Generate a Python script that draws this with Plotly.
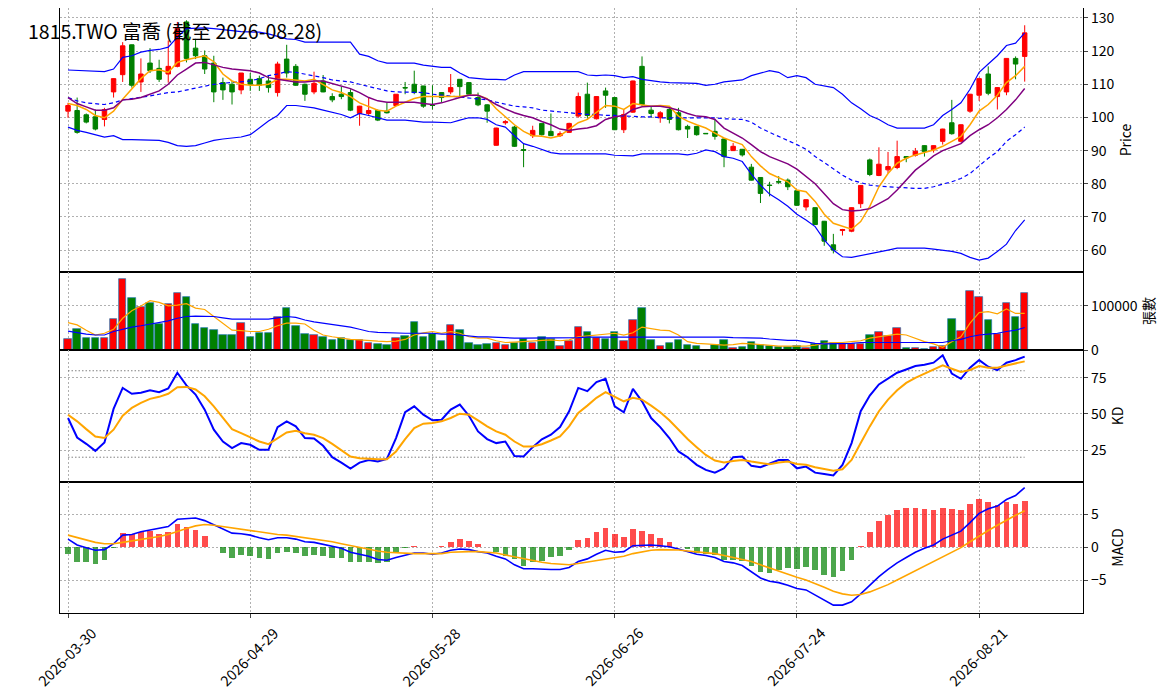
import pandas as pd
import plotly.graph_objects as go
from plotly.subplots import make_subplots

# 交易日 (台灣假日除外)
holidays = ["2026-04-03", "2026-04-06", "2026-05-01", "2026-06-19"]
dates = pd.bdate_range("2026-03-30", "2026-08-28", freq="C", holidays=holidays).strftime("%Y-%m-%d").tolist()
idx = list(range(len(dates)))

title_text = "1815.TWO 富喬 (截至 2026-08-28)"

open_ = [101.9, 102.1, 100.8, 100.2, 99.4, 107.7, 112.9, 121.9, 110.7, 116.4,
         114.8, 113.1, 115.4, 128.8, 120.9, 118.6, 116.4, 110.5, 110.0, 108.3,
         111.5, 111.7, 111.0, 107.5, 117.6, 115.4, 110.0, 107.7, 111.0, 106.3,
         107.0, 107.5, 101.2, 101.2, 102.1, 101.9, 103.6, 109.0, 110.0, 109.5,
         103.7, 107.5, 107.7, 111.5, 110.5, 106.0, 103.8, 91.6, 98.4, 97.1,
         90.3, 94.5, 98.2, 95.8, 94.5, 95.5, 100.4, 107.0, 99.6, 108.0,
         106.0, 96.3, 101.6, 115.4, 102.2, 99.9, 102.4, 101.4, 97.3, 97.3,
         95.2, 95.8, 93.5, 90.0, 90.4, 85.0, 81.9, 79.6, 80.7, 81.1,
         77.9, 73.0, 72.8, 68.7, 61.6, 65.9, 65.7, 74.0, 87.2, 82.5,
         84.2, 84.9, 88.2, 88.6, 91.5, 90.2, 92.8, 98.4, 92.8, 101.9,
         106.7, 113.1, 106.3, 107.7, 117.8, 118.4]
high = [104.4, 106.0, 101.2, 102.4, 102.9, 111.8, 122.7, 122.0, 117.8, 120.9,
        117.4, 123.2, 128.8, 129.3, 123.7, 120.2, 118.6, 112.0, 111.0, 113.4,
        113.4, 112.6, 112.8, 116.8, 121.9, 116.1, 110.2, 113.8, 112.8, 107.3,
        109.3, 108.5, 103.5, 106.0, 102.4, 104.4, 107.0, 110.7, 114.1, 109.5,
        109.7, 107.6, 113.1, 111.5, 110.7, 107.5, 104.0, 96.9, 99.2, 97.5,
        92.3, 97.5, 98.2, 101.2, 95.8, 98.4, 107.5, 110.5, 106.4, 109.0,
        106.1, 102.4, 111.1, 118.4, 103.4, 101.9, 103.2, 102.9, 97.8, 97.4,
        95.3, 99.6, 93.6, 92.3, 90.5, 86.0, 82.0, 80.6, 82.3, 81.6,
        78.0, 75.3, 72.9, 68.8, 64.9, 66.4, 72.9, 79.6, 87.6, 91.0,
        89.6, 93.0, 88.3, 90.8, 91.6, 91.6, 96.6, 105.3, 97.9, 107.1,
        112.0, 115.4, 109.1, 117.9, 118.4, 127.8]
low = [99.9, 95.1, 98.2, 96.1, 97.3, 106.0, 110.7, 109.0, 107.7, 113.4,
       110.7, 110.5, 115.1, 116.6, 117.6, 113.1, 104.6, 105.3, 103.9, 107.0,
       108.0, 108.0, 107.5, 106.3, 112.0, 109.5, 105.0, 107.0, 107.6, 104.6,
       105.5, 101.9, 97.5, 100.6, 98.9, 101.2, 103.5, 107.0, 107.0, 102.9,
       102.4, 104.6, 107.0, 106.3, 106.9, 103.4, 98.4, 91.5, 97.8, 91.1,
       85.0, 93.8, 94.5, 94.4, 94.1, 95.3, 99.9, 99.6, 99.4, 102.9,
       96.2, 95.3, 101.4, 103.4, 99.9, 98.4, 98.2, 96.1, 93.8, 94.5,
       95.0, 93.3, 85.0, 90.0, 88.2, 81.0, 74.2, 76.2, 79.9, 78.1,
       73.4, 71.9, 67.6, 61.3, 59.0, 64.4, 65.4, 72.7, 82.3, 82.3,
       83.2, 84.4, 86.5, 88.2, 88.2, 89.4, 91.8, 94.8, 92.5, 101.4,
       105.0, 106.7, 102.4, 106.7, 111.5, 110.8]
close = [103.6, 95.5, 98.6, 96.5, 102.4, 111.7, 121.6, 109.7, 113.1, 114.1,
         111.5, 115.4, 126.8, 117.8, 118.6, 114.6, 107.7, 108.3, 107.7, 113.4,
         110.0, 109.7, 109.0, 116.1, 113.4, 109.7, 107.0, 110.3, 107.7, 105.3,
         106.3, 102.2, 103.4, 102.1, 99.2, 101.4, 107.0, 108.9, 107.5, 103.4,
         103.6, 106.0, 109.0, 109.3, 107.0, 103.8, 101.9, 96.8, 98.7, 91.3,
         90.1, 96.1, 94.8, 94.5, 95.1, 98.2, 106.3, 100.6, 106.3, 106.7,
         96.3, 100.9, 111.0, 103.9, 101.2, 101.4, 99.4, 96.3, 96.5, 94.8,
         95.1, 94.3, 88.2, 91.3, 88.7, 81.1, 77.1, 79.5, 80.5, 79.1,
         73.5, 75.2, 67.7, 62.7, 60.0, 66.2, 72.8, 79.5, 82.8, 85.9,
         85.2, 88.2, 87.8, 89.8, 89.7, 91.5, 96.5, 95.1, 97.8, 107.0,
         111.7, 107.3, 109.0, 117.8, 116.1, 125.5]

ma5 = [104.2, 103.6, 102.4, 100.6, 99.9, 101.9, 105.5, 108.5, 111.7, 114.1,
       114.4, 113.6, 116.6, 117.4, 118.1, 118.6, 116.8, 113.1, 111.0, 110.0,
       109.7, 109.7, 110.0, 111.5, 111.5, 111.3, 111.0, 111.5, 110.0, 108.3,
       107.5, 106.3, 104.4, 103.2, 102.2, 101.9, 103.4, 104.6, 105.7, 106.3,
       106.3, 106.3, 106.3, 106.3, 106.7, 106.7, 105.7, 102.6, 100.2, 97.8,
       95.8, 94.5, 94.3, 93.8, 94.5, 96.5, 98.4, 99.4, 101.6, 103.6,
       103.4, 102.4, 104.2, 103.9, 103.4, 103.6, 103.4, 100.4, 98.9, 97.8,
       96.8, 95.3, 93.8, 92.8, 91.8, 88.2, 85.4, 83.1, 81.8, 80.6,
       78.1, 77.6, 74.7, 70.8, 68.1, 67.1, 66.3, 68.6, 73.2, 79.1,
       83.1, 86.2, 87.7, 88.7, 89.4, 90.2, 91.3, 92.8, 94.3, 97.8,
       101.9, 103.9, 106.7, 110.5, 112.6, 115.4]
ma10 = [106.0, 104.2, 103.2, 102.2, 102.2, 102.9, 105.3, 105.5, 106.0, 107.0,
        108.0, 110.0, 112.8, 114.6, 116.4, 116.6, 115.8, 115.1, 114.6, 114.4,
        114.1, 113.4, 112.0, 111.5, 111.0, 110.7, 110.7, 111.0, 111.0, 110.3,
        109.5, 108.7, 107.5, 106.0, 105.0, 104.6, 104.6, 104.6, 104.6, 104.2,
        103.9, 104.4, 105.3, 106.0, 106.7, 106.7, 105.5, 103.9, 102.6, 101.4,
        100.6, 99.9, 98.8, 97.8, 96.5, 96.1, 96.5, 96.8, 97.5, 99.4,
        100.2, 100.6, 102.4, 103.2, 103.4, 103.4, 102.9, 102.2, 101.2, 100.4,
        100.2, 99.4, 96.8, 95.3, 93.8, 91.8, 89.7, 88.2, 87.0, 86.0,
        84.4, 82.3, 80.0, 77.0, 74.0, 72.2, 71.8, 72.0, 72.5, 74.0,
        75.5, 78.1, 81.1, 84.1, 86.2, 88.4, 90.0, 91.0, 92.1, 94.5,
        96.3, 97.8, 99.9, 102.4, 105.3, 108.7]
bb_upper = [114.3, 114.2, 114.1, 114.0, 113.8, 114.6, 118.1, 118.6, 119.7, 120.2,
            120.5, 121.2, 124.2, 126.8, 127.0, 127.0, 126.8, 126.6, 126.2, 125.9,
            125.9, 125.7, 125.2, 124.5, 123.7, 123.5, 122.7, 122.7, 122.7, 122.7,
            122.7, 122.7, 119.1, 118.4, 117.1, 116.4, 116.4, 116.4, 116.4, 115.8,
            115.4, 115.1, 115.1, 113.4, 112.0, 111.7, 111.5, 111.5, 111.3, 112.8,
            113.8, 113.8, 113.8, 113.8, 113.8, 113.8, 113.8, 112.8, 112.6, 112.8,
            112.6, 112.0, 112.3, 111.5, 111.0, 110.7, 110.5, 110.5, 110.5, 110.3,
            109.7, 110.0, 110.7, 111.0, 111.3, 112.6, 113.4, 114.1, 113.6, 112.0,
            112.6, 112.0, 110.0, 109.5, 109.0, 107.0, 104.4, 102.6, 100.6, 99.4,
            97.8, 96.8, 96.8, 96.8, 96.8, 97.8, 100.6, 102.4, 104.4, 108.5,
            113.6, 116.1, 118.6, 121.7, 122.4, 125.5]
bb_mid = [106.0, 105.0, 104.4, 104.1, 103.9, 104.4, 105.3, 105.7, 106.0, 106.5,
          107.0, 107.5, 107.7, 108.3, 108.7, 109.3, 110.0, 110.3, 110.5, 110.7,
          111.0, 111.7, 112.6, 113.1, 113.8, 113.6, 113.1, 112.6, 112.0, 111.3,
          111.0, 110.7, 110.0, 109.3, 108.7, 108.0, 107.7, 107.7, 107.7, 107.5,
          107.0, 106.7, 106.5, 106.3, 106.0, 105.5, 105.3, 104.6, 103.9, 103.4,
          103.2, 102.9, 102.2, 101.9, 101.6, 101.4, 101.2, 100.9, 100.9, 100.6,
          100.6, 100.4, 100.2, 100.2, 100.2, 99.9, 99.9, 99.9, 99.9, 99.9,
          99.9, 99.9, 99.6, 99.6, 99.4, 98.6, 96.8, 95.5, 94.3, 93.1,
          91.8, 90.4, 88.2, 86.4, 84.4, 82.6, 81.1, 80.3, 79.6, 79.3,
          79.1, 78.9, 78.6, 78.6, 78.6, 79.1, 79.9, 80.6, 81.6, 83.1,
          85.4, 87.7, 89.7, 92.8, 94.8, 97.1]
bb_lower = [97.1, 96.1, 95.5, 94.8, 94.1, 94.5, 93.3, 93.3, 93.3, 93.3,
            93.1, 92.5, 91.5, 91.3, 91.5, 92.3, 93.1, 93.5, 93.8, 94.1,
            94.8, 96.8, 98.9, 100.6, 103.6, 103.6, 103.2, 102.9, 102.2, 101.6,
            100.9, 99.9, 101.2, 100.6, 99.9, 99.2, 99.2, 99.2, 98.9, 98.6,
            98.6, 98.4, 98.4, 99.2, 99.9, 99.9, 99.4, 97.8, 97.1, 94.5,
            92.1, 91.3, 90.3, 89.4, 89.0, 89.0, 89.0, 89.2, 89.2, 89.0,
            88.6, 88.4, 88.4, 89.0, 89.0, 89.0, 89.0, 89.0, 88.7, 89.2,
            90.2, 89.7, 88.2, 87.7, 86.7, 82.9, 79.6, 76.9, 75.2, 73.2,
            70.8, 69.1, 67.1, 63.1, 60.0, 58.0, 57.8, 58.3, 58.8, 59.3,
            60.0, 60.6, 60.6, 60.6, 60.6, 60.3, 60.0, 59.6, 59.0, 57.8,
            57.0, 57.6, 59.6, 61.8, 65.9, 69.1]

# 成交量 (張)
volume = [24000, 47000, 28000, 28000, 28000, 70000, 161000, 117000, 97000, 106000,
          58000, 104000, 129000, 120000, 59000, 49000, 45000, 33000, 33000, 61000,
          29000, 39000, 39000, 74000, 95000, 54000, 36000, 33000, 29000, 22000,
          27000, 22000, 22000, 17000, 13000, 11000, 27000, 31000, 63000, 29000,
          36000, 20000, 56000, 45000, 15000, 11000, 13000, 17000, 11000, 17000,
          24000, 15000, 29000, 24000, 8000, 20000, 52000, 40000, 28000, 24000,
          40000, 21000, 67000, 95000, 22000, 10000, 15000, 22000, 11000, 8000,
          1000, 12000, 22000, 5000, 6000, 18000, 11000, 9000, 7000, 6000,
          8000, 5000, 14000, 20000, 15000, 14000, 14000, 14000, 33000, 40000,
          32000, 49000, 4000, 4000, 2000, 6000, 8000, 70000, 42000, 133000,
          120000, 67000, 36000, 106000, 76000, 129000]
vol_ma5 = [62000, 57000, 45000, 34000, 38000, 47000, 72000, 89000, 100000, 112000,
           108000, 100000, 102000, 105000, 95000, 92000, 76000, 61000, 45000, 44000,
           42000, 42000, 47000, 55000, 61000, 61000, 59000, 45000, 34000, 30000,
           27000, 24000, 23000, 21000, 20000, 19000, 20000, 24000, 34000, 39000,
           42000, 38000, 42000, 38000, 30000, 27000, 27000, 21000, 17000, 18000,
           19000, 21000, 22000, 23000, 21000, 23000, 30000, 32000, 33000, 36000,
           38000, 34000, 39000, 52000, 49000, 45000, 44000, 34000, 19000, 15000,
           14000, 12000, 11000, 12000, 15000, 14000, 12000, 11000, 9000, 9000,
           9000, 9000, 11000, 15000, 17000, 17000, 19000, 21000, 27000, 30000,
           32000, 36000, 34000, 27000, 19000, 14000, 6000, 19000, 30000, 61000,
           85000, 87000, 82000, 93000, 83000, 83000]
vol_ma20 = [43000, 39000, 36000, 34000, 34000, 42000, 47000, 52000, 55000, 59000,
            62000, 66000, 72000, 76000, 77000, 77000, 76000, 73000, 70000, 70000,
            70000, 70000, 70000, 73000, 76000, 74000, 68000, 64000, 61000, 58000,
            55000, 52000, 47000, 42000, 40000, 39000, 38000, 38000, 38000, 38000,
            38000, 36000, 36000, 34000, 32000, 30000, 30000, 29000, 27000, 27000,
            27000, 27000, 27000, 27000, 27000, 27000, 28000, 29000, 29000, 29000,
            29000, 29000, 29000, 30000, 30000, 30000, 30000, 30000, 30000, 29000,
            29000, 29000, 29000, 28000, 28000, 27000, 27000, 25000, 23000, 22000,
            22000, 19000, 15000, 14000, 14000, 14000, 15000, 17000, 17000, 18000,
            18000, 18000, 17000, 17000, 17000, 17000, 17000, 21000, 24000, 30000,
            34000, 36000, 38000, 42000, 45000, 51000]

k_val = [47.2, 33.7, 29.3, 24.4, 30.2, 53.5, 68.1, 64.0, 64.7, 66.5,
         65.1, 67.7, 78.6, 69.8, 63.5, 53.0, 39.1, 30.9, 26.3, 29.8,
         28.6, 25.1, 25.1, 40.9, 44.9, 41.4, 33.3, 33.0, 27.9, 20.0,
         16.3, 12.1, 16.3, 18.1, 17.0, 18.8, 33.3, 51.2, 55.3, 49.5,
         45.6, 46.0, 53.0, 56.5, 48.8, 37.9, 32.6, 29.8, 30.9, 20.9,
         20.5, 27.0, 32.4, 35.6, 40.9, 51.9, 68.1, 65.8, 72.1, 74.4,
         55.3, 51.2, 67.4, 58.8, 47.2, 40.9, 33.3, 24.0, 20.0, 14.7,
         11.2, 9.3, 12.3, 20.0, 20.5, 14.0, 13.0, 15.3, 18.1, 18.1,
         12.3, 13.5, 9.3, 8.4, 7.4, 14.7, 29.8, 51.9, 62.8, 70.5,
         74.4, 78.6, 80.9, 83.3, 84.2, 85.6, 90.7, 78.1, 74.4, 82.1,
         87.4, 82.8, 80.5, 85.6, 87.4, 89.8]
d_val = [49.5, 44.9, 39.5, 34.4, 33.3, 39.1, 48.8, 54.2, 57.7, 60.5,
         61.9, 64.0, 68.6, 68.8, 67.0, 62.3, 55.3, 47.2, 39.5, 36.7,
         34.0, 30.9, 29.1, 33.3, 37.2, 38.4, 36.7, 35.6, 33.3, 29.3,
         25.1, 20.5, 19.3, 18.8, 18.6, 18.6, 24.0, 32.6, 40.2, 43.3,
         43.7, 44.9, 47.2, 50.2, 49.5, 45.6, 41.4, 37.9, 35.6, 30.9,
         27.4, 27.4, 29.0, 31.6, 34.4, 41.4, 50.7, 55.8, 61.2, 65.1,
         61.9, 58.8, 61.2, 60.0, 55.8, 51.2, 45.6, 39.1, 32.6, 27.0,
         21.6, 17.7, 16.3, 17.4, 18.1, 17.0, 15.8, 15.1, 16.3, 17.0,
         15.3, 14.7, 13.0, 11.6, 10.7, 11.6, 18.1, 29.8, 41.4, 51.9,
         60.0, 66.5, 71.6, 75.1, 77.9, 80.5, 83.7, 81.4, 79.1, 80.5,
         83.3, 82.1, 82.1, 83.7, 85.1, 86.5]
kd_ref = [80, 20]

macd_hist = [-1.1, -2.2, -2.3, -2.6, -2.0, -0.2, 2.1, 1.9, 2.3, 2.4,
             1.9, 2.2, 3.5, 3.0, 2.6, 1.7, 0.0, -0.9, -1.6, -1.2,
             -1.4, -1.7, -1.8, -0.9, -0.7, -0.9, -1.4, -1.2, -1.4, -1.7,
             -1.7, -2.2, -2.2, -2.3, -2.4, -2.3, -0.9, -0.2, 0.2, -0.05,
             0.05, 0.2, 0.8, 1.2, 0.9, 0.5, 0.05, -0.8, -1.3, -1.8,
             -2.9, -2.3, -2.1, -1.5, -1.3, -0.5, 1.1, 1.4, 2.3, 2.9,
             1.9, 1.5, 2.7, 2.4, 1.9, 1.4, 0.8, 0.05, -0.3, -0.9,
             -1.1, -1.2, -2.0, -2.0, -2.1, -2.9, -3.8, -3.9, -3.5, -3.2,
             -3.3, -3.0, -3.5, -4.3, -4.5, -3.6, -2.0, 0.2, 2.3, 3.9,
             4.8, 5.6, 5.9, 5.9, 5.7, 5.6, 5.9, 5.7, 5.6, 6.5,
             7.2, 6.8, 6.3, 6.8, 6.5, 6.9]
dif = [1.2, 0.3, -0.1, -0.5, -0.4, 0.5, 1.8, 1.9, 2.3, 2.6,
       2.8, 3.1, 4.2, 4.3, 4.4, 4.0, 3.4, 2.7, 2.1, 2.0,
       1.8, 1.4, 1.1, 1.4, 1.4, 1.2, 0.8, 0.7, 0.4, 0.0,
       -0.2, -0.8, -1.1, -1.4, -1.9, -2.0, -1.6, -1.2, -0.9, -0.9,
       -1.1, -0.9, -0.5, -0.3, -0.4, -0.7, -0.9, -1.4, -1.8, -2.7,
       -3.3, -3.3, -3.4, -3.4, -3.4, -3.1, -2.2, -1.8, -1.1, -0.5,
       -0.8, -0.7, 0.2, 0.3, 0.3, 0.2, 0.05, -0.3, -0.7, -1.1,
       -1.3, -1.6, -2.2, -2.4, -2.8, -3.7, -4.7, -5.2, -5.4, -5.8,
       -6.3, -6.5, -7.3, -8.1, -8.8, -8.8, -8.3, -7.1, -5.8, -4.5,
       -3.4, -2.4, -1.6, -0.8, -0.2, 0.3, 1.2, 1.8, 2.4, 3.7,
       5.1, 5.8, 6.2, 7.2, 7.8, 9.0]
dea = [1.8, 1.4, 1.0, 0.7, 0.5, 0.5, 0.7, 0.9, 1.2, 1.4,
       1.6, 1.9, 2.4, 2.8, 3.2, 3.4, 3.3, 3.1, 2.9, 2.7,
       2.4, 2.2, 2.0, 1.9, 1.8, 1.6, 1.4, 1.3, 1.0, 0.8,
       0.5, 0.2, -0.1, -0.4, -0.6, -0.8, -0.9, -0.9, -1.0, -1.0,
       -1.0, -1.0, -0.8, -0.7, -0.7, -0.7, -0.8, -0.9, -1.2, -1.5,
       -1.8, -2.1, -2.3, -2.5, -2.6, -2.7, -2.5, -2.3, -2.1, -1.8,
       -1.6, -1.4, -1.0, -0.7, -0.5, -0.4, -0.4, -0.45, -0.6, -0.7,
       -0.8, -1.0, -1.3, -1.6, -1.8, -2.2, -2.7, -3.2, -3.7, -4.2,
       -4.6, -5.0, -5.5, -6.1, -6.7, -7.1, -7.3, -7.2, -6.8, -6.3,
       -5.7, -5.0, -4.3, -3.6, -2.9, -2.2, -1.5, -0.8, -0.1, 0.8,
       1.7, 2.5, 3.3, 4.1, 4.8, 5.5]

FONT = "Noto Sans CJK TC"
GRID = "#b0b0b0"
GRID_DASH = "1.5px,2.5px"

# 頁面本身有 8px 邊距, 以此換算版面位置
W, H = 1163, 690
OFF = 8

vol_colors = ["red" if c >= o else "green" for o, c in zip(open_, close)]
hist_colors = ["rgba(255,0,0,0.7)" if h >= 0 else "rgba(0,128,0,0.7)" for h in macd_hist]

fig = make_subplots(rows=4, cols=1, shared_xaxes=True, vertical_spacing=0)

# 1. K 線 + 布林通道 + 均線
fig.add_trace(go.Scatter(x=idx, y=bb_upper, mode="lines", line=dict(color="blue", width=1.2)), row=1, col=1)
fig.add_trace(go.Scatter(x=idx, y=bb_lower, mode="lines", line=dict(color="blue", width=1.2)), row=1, col=1)
fig.add_trace(go.Scatter(x=idx, y=bb_mid, mode="lines", line=dict(color="blue", width=1.2, dash="4px,3px")), row=1, col=1)
fig.add_trace(go.Candlestick(
    x=idx, open=open_, high=high, low=low, close=close,
    increasing=dict(line=dict(color="red", width=1), fillcolor="red"),
    decreasing=dict(line=dict(color="green", width=1), fillcolor="green"),
    whiskerwidth=0,
), row=1, col=1)
fig.add_trace(go.Scatter(x=idx, y=ma5, mode="lines", line=dict(color="orange", width=1.5)), row=1, col=1)
fig.add_trace(go.Scatter(x=idx, y=ma10, mode="lines", line=dict(color="purple", width=1.5)), row=1, col=1)

# 2. 成交量
fig.add_trace(go.Bar(x=idx, y=volume, width=0.82, marker=dict(color=vol_colors, line=dict(color="#1f77b4", width=0.7))), row=2, col=1)
fig.add_trace(go.Scatter(x=idx, y=vol_ma5, mode="lines", line=dict(color="orange", width=1.2)), row=2, col=1)
fig.add_trace(go.Scatter(x=idx, y=vol_ma20, mode="lines", line=dict(color="blue", width=1.2)), row=2, col=1)

# 3. KD
for lv in kd_ref:
    fig.add_trace(go.Scatter(x=[idx[0], idx[-1]], y=[lv, lv], mode="lines",
                             line=dict(color="gray", width=1, dash="1.5px,2px")), row=3, col=1)
fig.add_trace(go.Scatter(x=idx, y=k_val, mode="lines", line=dict(color="blue", width=2)), row=3, col=1)
fig.add_trace(go.Scatter(x=idx, y=d_val, mode="lines", line=dict(color="orange", width=2)), row=3, col=1)

# 4. MACD
fig.add_hline(y=0, row=4, col=1, line=dict(color="gray", width=1, dash="4px,3px"))
fig.add_trace(go.Bar(x=idx, y=macd_hist, width=0.62, marker=dict(color=hist_colors, line=dict(width=0))), row=4, col=1)
fig.add_trace(go.Scatter(x=idx, y=dif, mode="lines", line=dict(color="blue", width=1.6)), row=4, col=1)
fig.add_trace(go.Scatter(x=idx, y=dea, mode="lines", line=dict(color="orange", width=1.6)), row=4, col=1)

tick_idx = idx[::20]
xdom = [(60 - OFF) / W, (1083 - OFF) / W]


def ydom(top, bottom):
    return [1 - (bottom - OFF) / H, 1 - (top - OFF) / H]


ydoms = [ydom(8, 272), ydom(272, 350), ydom(350, 482), ydom(482, 613)]

for r in range(1, 5):
    fig.update_xaxes(
        row=r, col=1, domain=xdom, range=[-0.88, 111.4],
        tickmode="array", tickvals=tick_idx, ticktext=[dates[i] for i in tick_idx],
        showgrid=True, gridcolor=GRID, griddash=GRID_DASH, gridwidth=0.8,
        showline=True, linecolor="black", linewidth=1.2, mirror=True,
        zeroline=False, rangeslider_visible=False, automargin=False,
        showticklabels=False, ticks="outside" if r == 4 else "", ticklen=4,
    )

# 日期標籤: 45 度旋轉, 以刻度為中心
for i in tick_idx:
    fig.add_annotation(
        text=dates[i], xref="x4", yref="paper", x=i, y=1 - (656 - OFF) / H,
        xanchor="center", yanchor="middle", xshift=-2, showarrow=False, textangle=-45,
        font=dict(family=FONT, size=14.5, color="black"),
    )

yconf = [
    dict(range=[53.4, 133.0], tickvals=[60, 70, 80, 90, 100, 110, 120, 130], title="Price"),
    dict(range=[0, 177000], tickvals=[0, 100000], title="張數"),
    dict(range=[2.8, 94.4], tickvals=[25, 50, 75], title="KD"),
    dict(range=[-10.0, 9.85], tickvals=[-5, 0, 5], title="MACD"),
]
for r, yc in enumerate(yconf, start=1):
    fig.update_yaxes(
        row=r, col=1, domain=ydoms[r - 1], side="right",
        range=yc["range"], tickmode="array", tickvals=yc["tickvals"],
        title=dict(text=yc["title"], standoff=7, font=dict(size=14)),
        showgrid=True, gridcolor=GRID, griddash=GRID_DASH, gridwidth=0.8,
        showline=True, linecolor="black", linewidth=1.2, mirror=True,
        zeroline=False, ticks="outside", ticklen=4, automargin=False,
        tickformat="d", ticklabeloverflow="allow",
    )

fig.add_annotation(
    text=title_text, xref="paper", yref="paper", x=(26 - OFF) / W, y=1 - (31 - OFF) / H,
    xanchor="left", yanchor="middle", showarrow=False,
    font=dict(family=FONT, size=19.5, color="black"),
)

fig.update_layout(
    width=W, height=H,
    margin=dict(l=0, r=0, t=0, b=0),
    plot_bgcolor="white", paper_bgcolor="white",
    showlegend=False, hovermode=False, bargap=0,
    font=dict(family=FONT, size=14, color="black"),
)

fig.write_html("out.html")
